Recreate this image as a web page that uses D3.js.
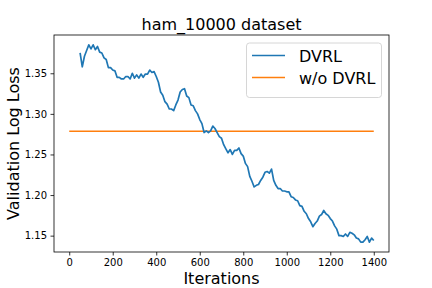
<!DOCTYPE html>
<html>
<head>
  <meta charset="utf-8">
  <script src="https://d3js.org/d3.v7.min.js"></script>
  <style>
    body { margin: 0; background: #fff; }
    text { font-family: "DejaVu Sans", sans-serif; fill: #000; }
    .tick text { font-size: 10px; }
  </style>
</head>
<body>
  <svg width="432" height="288"></svg>
  <script>
    // DVRL validation loss, read every 10 iterations from 50 to 1400
    const dvrlStart = 50, dvrlStep = 10;
    const dvrlLoss = [
      1.375, 1.358, 1.371, 1.378, 1.385, 1.380, 1.385, 1.379, 1.383, 1.376,
      1.375, 1.369, 1.367, 1.357, 1.357, 1.354, 1.353, 1.345, 1.345, 1.343,
      1.343, 1.346, 1.346, 1.343, 1.350, 1.344, 1.348, 1.344, 1.349, 1.345,
      1.349, 1.349, 1.354, 1.351, 1.352, 1.346, 1.339, 1.327, 1.323, 1.315,
      1.312, 1.306, 1.306, 1.304, 1.311, 1.317, 1.327, 1.330, 1.331, 1.322,
      1.320, 1.311, 1.310, 1.304, 1.300, 1.293, 1.288, 1.277, 1.279, 1.277,
      1.279, 1.285, 1.282, 1.277, 1.272, 1.270, 1.262, 1.257, 1.252, 1.256,
      1.250, 1.255, 1.255, 1.258, 1.251, 1.248, 1.239, 1.235, 1.223, 1.217,
      1.210, 1.212, 1.213, 1.218, 1.222, 1.228, 1.229, 1.227, 1.232, 1.218,
      1.212, 1.208, 1.208, 1.205, 1.205, 1.204, 1.204, 1.198, 1.197, 1.194,
      1.193, 1.187, 1.186, 1.180, 1.177, 1.171, 1.167, 1.161, 1.165, 1.168,
      1.174, 1.176, 1.181, 1.177, 1.175, 1.171, 1.168, 1.162, 1.158, 1.150,
      1.150, 1.149, 1.152, 1.149, 1.154, 1.153, 1.151, 1.147, 1.146, 1.142,
      1.142, 1.145, 1.149, 1.142, 1.147, 1.144
    ];
    const baselineIters = [0, 1400];
    const baselineLoss = 1.2785;

    const xTicks = [0, 200, 400, 600, 800, 1000, 1200, 1400];
    const yTicks = [1.15, 1.20, 1.25, 1.30, 1.35];
    const seriesNames = ["DVRL", "w/o DVRL"];
    const colors = ["#1f77b4", "#ff7f0e"];

    const dvrl = dvrlLoss.map((v, i) => ({ x: dvrlStart + i * dvrlStep, y: v }));
    const base = baselineIters.map(x => ({ x: x, y: baselineLoss }));

    const svg = d3.select("svg");
    const m = { left: 54, right: 389, top: 35, bottom: 252 };

    // matplotlib style 5% margins
    const allY = dvrlLoss.concat([baselineLoss]);
    const yMin = d3.min(allY), yMax = d3.max(allY);
    const yPad = (yMax - yMin) * 0.05;
    const xPad = 1400 * 0.05;

    const x = d3.scaleLinear().domain([0 - xPad, 1400 + xPad]).range([m.left, m.right]);
    const y = d3.scaleLinear().domain([yMin - yPad, yMax + yPad]).range([m.bottom, m.top]);

    const line = d3.line().x(d => x(d.x)).y(d => y(d.y));

    svg.append("path").datum(base)
      .attr("d", line).attr("fill", "none")
      .attr("stroke", colors[1]).attr("stroke-width", 1.5);

    svg.append("path").datum(dvrl)
      .attr("d", line).attr("fill", "none")
      .attr("stroke", colors[0]).attr("stroke-width", 1.7)
      .attr("stroke-linejoin", "round");

    // axes
    const xAxis = svg.append("g").attr("transform", `translate(0,${m.bottom})`)
      .call(d3.axisBottom(x).tickValues(xTicks).tickSize(3.5).tickPadding(3.5).tickFormat(d3.format("d")));
    const yAxis = svg.append("g").attr("transform", `translate(${m.left},0)`)
      .call(d3.axisLeft(y).tickValues(yTicks).tickSize(3.5).tickPadding(3.5).tickFormat(d3.format(".2f")));
    [xAxis, yAxis].forEach(g => {
      g.select(".domain").remove();
      g.selectAll(".tick line").attr("stroke", "#000").attr("stroke-width", 0.8);
      g.selectAll(".tick text").attr("fill", "#000");
    });

    // spines
    svg.append("rect")
      .attr("x", m.left).attr("y", m.top)
      .attr("width", m.right - m.left).attr("height", m.bottom - m.top)
      .attr("fill", "none").attr("stroke", "#000").attr("stroke-width", 0.8);

    // labels
    svg.append("text").attr("x", (m.left + m.right) / 2).attr("y", 30)
      .attr("text-anchor", "middle").style("font-size", "16px").text("ham_10000 dataset");
    svg.append("text").attr("x", (m.left + m.right) / 2).attr("y", 284)
      .attr("text-anchor", "middle").style("font-size", "16px").text("Iterations");
    svg.append("text")
      .attr("transform", `translate(18.5,${(m.top + m.bottom) / 2}) rotate(-90)`)
      .attr("text-anchor", "middle").style("font-size", "16px").text("Validation Log Loss");

    // legend
    const lg = svg.append("g");
    lg.append("rect").attr("x", 246.5).attr("y", 43).attr("width", 135).attr("height", 54.5)
      .attr("rx", 3).attr("fill", "#fff").attr("fill-opacity", 0.8)
      .attr("stroke", "#ccc").attr("stroke-width", 0.8);
    seriesNames.forEach((name, i) => {
      const ly = 55.5 + i * 22;
      lg.append("line").attr("x1", 252).attr("x2", 285).attr("y1", ly).attr("y2", ly)
        .attr("stroke", colors[i]).attr("stroke-width", 1.5);
      lg.append("text").attr("x", 299).attr("y", ly + 6)
        .style("font-size", "16px").text(name);
    });
  </script>
</body>
</html>
